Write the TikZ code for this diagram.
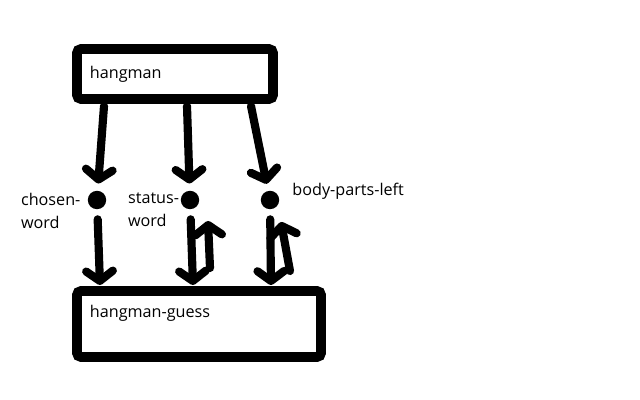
\documentclass[tikz,border=0pt]{standalone}
\usepackage{fontspec}
\setmainfont{Open Sans}
\usetikzlibrary{arrows.meta}
\usetikzlibrary{positioning}

\tikzset{
  box/.style={draw, line width=7pt, rounded corners=3pt, align=left, inner xsep=0.325cm},
  dot/.style={circle, fill, inner sep=0pt, minimum size=0.46cm},
  lbl/.style={font=\fontsize{11.5}{16.4}\selectfont, align=left, inner sep=2pt},
  arr/.style={line width=5.8pt, line cap=round, -{Straight Barb[length=7pt,width=19pt,round]}},
}

\begin{document}
\begin{tikzpicture}[x=0.025cm, y=-0.025cm, font=\fontsize{11.5}{14}\selectfont]
  \useasboundingbox (0,0) rectangle (640,400);

  \node[box, minimum width=4.9cm, minimum height=1.25cm, text width=4.25cm] (hm) at (175,74) {hangman};
  \node[box, minimum width=6.1cm, minimum height=1.65cm, text width=5.45cm, text depth=0.62cm] (hg) at (199,324) {hangman-guess};

  \node[dot] (d1) at (97,200) {};
  \node[dot] (d2) at (190,200) {};
  \node[dot] (d3) at (270,200) {};

  \node[lbl, anchor=north west] (l1) at (18,190) {chosen-\\word};
  \node[lbl, anchor=north west] (l2) at (125,190) {status-\\word};
  \node[lbl, right=7pt of d3, yshift=6.4pt] (l3) {body-parts-left};

  \coordinate (t1) at (104,106);
  \coordinate (t2) at (187,106);
  \coordinate (t3) at (251,106);
  \coordinate (b1) at (100,285);
  \coordinate (b2) at (193,285);
  \coordinate (b3) at (271,285);
  \coordinate (u2s) at (210,268);
  \coordinate (u2e) at (208,221);
  \coordinate (u3s) at (290,271);
  \coordinate (u3e) at (281,222);

  \draw[arr, shorten >=5pt] (t1) -- (d1);
  \draw[arr, shorten >=5pt] (t2) -- (d2);
  \draw[arr, shorten >=5pt] (t3) -- (d3);

  \draw[arr, shorten <=7pt] (d1) -- (b1);
  \draw[arr, shorten <=7pt] (d2) -- (b2);
  \draw[arr, shorten <=7pt] (d3) -- (b3);

  \draw[arr] (u2s) -- (u2e);
  \draw[arr] (u3s) -- (u3e);
\end{tikzpicture}
\end{document}
